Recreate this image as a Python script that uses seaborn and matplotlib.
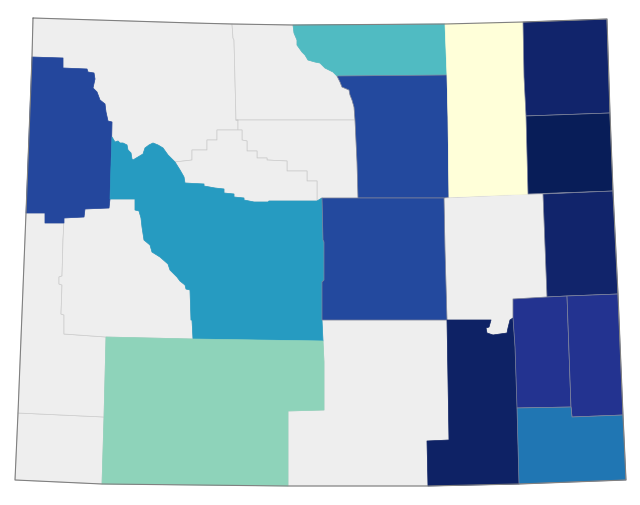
import numpy as np
import matplotlib
matplotlib.use("Agg")
import matplotlib.pyplot as plt
from matplotlib.collections import PolyCollection
import seaborn as sns

# shared county borders, in map units (y runs downwards)
teton_east = [(63, 58), (63, 68), (87, 69), (88, 72), (94, 73), (95, 79), (93, 88), (97, 92), (100, 100),
              (105, 104), (106, 112), (108, 121), (112, 122)]
fremont_north = [(112, 137), (115, 142), (118, 141), (120, 143), (123, 143), (127, 145), (128, 150), (131, 153),
                 (132, 159), (133, 160), (143, 154), (145, 148), (149, 145), (153, 143), (158, 145), (163, 148),
                 (168, 155), (175, 162), (180, 170), (184, 177), (185, 183), (204, 184), (204, 186), (215, 188),
                 (224, 189), (224, 193), (234, 194), (234, 197), (244, 198), (244, 200), (254, 202), (268, 202),
                 (269, 201), (317, 201)]
fremont_west = [(135, 199), (135, 210), (139, 211), (141, 218), (142, 227), (144, 240), (150, 245), (152, 252),
                (160, 257), (168, 264), (170, 270), (177, 277), (180, 281), (185, 285), (186, 289), (190, 290),
                (191, 320), (192, 320), (193, 339)]
fremont_east = [(322, 198), (323, 240), (324, 242), (324, 280), (322, 282), (322, 320)]
park_south = [(238, 120), (238, 130), (217, 130), (217, 140), (207, 140), (207, 150), (192, 150), (192, 160),
              (175, 162)]
washakie_south = [(238, 130), (242, 130), (242, 140), (247, 141), (247, 151), (257, 151), (257, 158), (267, 158),
                  (267, 160), (287, 161), (287, 171), (307, 171), (307, 181), (317, 181), (317, 201)]
sheridan_south = [(293, 25), (294, 33), (297, 40), (297, 45), (302, 52), (305, 55), (308, 60), (315, 62),
                  (320, 63), (325, 68), (333, 72), (337, 76)]
johnson_west = [(337, 76), (340, 82), (342, 87), (349, 90), (350, 95), (352, 100), (354, 107), (355, 120),
                (357, 162), (358, 198)]
sublette_west = [(64, 334), (64, 315), (61, 314), (62, 285), (59, 284), (59, 277), (62, 276), (63, 240), (64, 218)]
albany_notch = [(447, 320), (491, 320), (489, 327), (486, 328), (487, 333), (493, 335), (507, 333), (508, 328),
                (510, 320), (513, 318)]

idx = fremont_north.index((175, 162))

county_shapes = {
    "Park": [(33, 18), (193, 23), (232, 24), (233, 38), (234, 40), (235, 80), (236, 120)] + park_south
            + fremont_north[:idx][::-1] + teton_east[::-1] + [(32, 57)],
    "Big Horn": [(232, 24), (293, 25)] + sheridan_south[1:] + johnson_west[1:8]
                + [(236, 120), (235, 80), (234, 40), (233, 38)],
    "Washakie": [(236, 120), (355, 120), (357, 162), (358, 198), (322, 198), (317, 201)] + washakie_south[::-1][1:]
                + [(238, 120)],
    "Hot Springs": [(217, 130)] + washakie_south + fremont_north[idx + 1:][::-1][1:] + [(175, 162), (192, 160),
                                                                                         (192, 150), (207, 150),
                                                                                         (207, 140), (217, 140)],
    "Converse": [(444, 198), (528, 194), (543, 194), (547, 297), (513, 299)] + albany_notch[::-1] + [(445, 250)],
    "Carbon": [(322, 320), (447, 320), (449, 440), (427, 441), (428, 486), (288, 486), (288, 411), (324, 410),
               (324, 362), (323, 341)],
    "Uinta": [(18, 413), (104, 417), (102, 484), (15, 480)],
    "Lincoln": [(26, 213), (45, 213), (45, 223), (64, 223)] + sublette_west[::-1][1:] + [(106, 337), (104, 417),
                                                                                        (18, 413)],
    "Sublette": [(64, 218), (84, 217), (85, 209), (109, 208), (110, 199)] + fremont_west
                + [(106, 337)] + sublette_west,
    "Sheridan": [(293, 25), (445, 24), (447, 75)] + sheridan_south[::-1][:-1],
    "Johnson": johnson_west + [(444, 198), (449, 197), (448, 117), (447, 75)],
    "Campbell": [(445, 24), (523, 22), (524, 77), (526, 116), (528, 194), (449, 197), (448, 117), (447, 75)],
    "Teton": [(32, 57)] + teton_east + [(111, 165), (110, 199), (109, 208), (85, 209), (84, 217), (64, 218),
                                        (64, 223), (45, 223), (45, 213), (26, 213)],
    "Fremont": fremont_north + fremont_east + [(323, 341)] + fremont_west[::-1] + [(110, 199), (111, 165)],
    "Natrona": fremont_east + [(322, 320), (447, 320), (445, 250), (444, 198)],
    "Sweetwater": [(106, 337), (193, 339), (323, 341), (324, 362), (324, 410), (288, 411), (288, 486), (102, 484),
                   (104, 417)],
    "Albany": albany_notch + [(515, 347), (517, 408), (519, 484), (428, 486), (427, 441), (449, 440)],
    "Crook": [(523, 22), (607, 19), (610, 113), (526, 116), (524, 77)],
    "Weston": [(526, 116), (610, 113), (613, 191), (528, 194)],
    "Niobrara": [(543, 194), (613, 191), (618, 294), (567, 296), (547, 297)],
    "Platte": [(513, 299), (547, 297), (567, 296), (571, 407), (517, 408), (515, 347), (513, 318)],
    "Goshen": [(567, 296), (618, 294), (623, 415), (572, 417), (571, 407)],
    "Laramie": [(517, 408), (571, 407), (572, 417), (623, 415), (626, 480), (519, 484)],
}

counties = list(county_shapes.keys())
# nan = no data, drawn grey
county_values = {
    "Park": np.nan, "Big Horn": np.nan, "Sheridan": 47, "Johnson": 81, "Campbell": 0, "Crook": 96, "Weston": 100,
    "Teton": 82, "Fremont": 59, "Washakie": np.nan, "Hot Springs": np.nan, "Natrona": 81, "Converse": np.nan,
    "Niobrara": 96, "Platte": 88, "Goshen": 88, "Laramie": 69, "Albany": 97, "Carbon": np.nan, "Sweetwater": 35,
    "Uinta": np.nan, "Lincoln": np.nan, "Sublette": np.nan,
}
state_outline = [(33, 18), (193, 23), (232, 24), (293, 25), (445, 24), (523, 22), (607, 19), (610, 113), (613, 191),
                 (618, 294), (623, 415), (626, 480), (519, 484), (428, 486), (288, 486), (102, 484), (15, 480),
                 (18, 413), (26, 213), (32, 57), (33, 18)]
lined_counties = ["Johnson", "Natrona", "Crook", "Weston", "Niobrara", "Platte", "Goshen", "Laramie"]

sns.set_style("white")
cmap = sns.color_palette("YlGnBu", as_cmap=True)

fig, ax = plt.subplots(figsize=(6.4, 5.05), dpi=100)
fig.subplots_adjust(0, 0, 1, 1)

faces = []
edges = []
for c in counties:
    v = county_values[c]
    if np.isnan(v):
        faces.append("#eeeeee")
        edges.append("#cccccc")
    else:
        faces.append(cmap(v / 100))
        edges.append("#7f859c" if c in lined_counties else cmap(v / 100))

polys = PolyCollection([county_shapes[c] for c in counties], facecolors=faces, edgecolors=edges, linewidths=0.5)
ax.add_collection(polys)

xs, ys = zip(*state_outline)
ax.plot(xs, ys, color="#808080", lw=0.8)

ax.set_xlim(0, 640)
ax.set_ylim(505, 0)
ax.axis("off")
plt.savefig("out.png", dpi=100)
